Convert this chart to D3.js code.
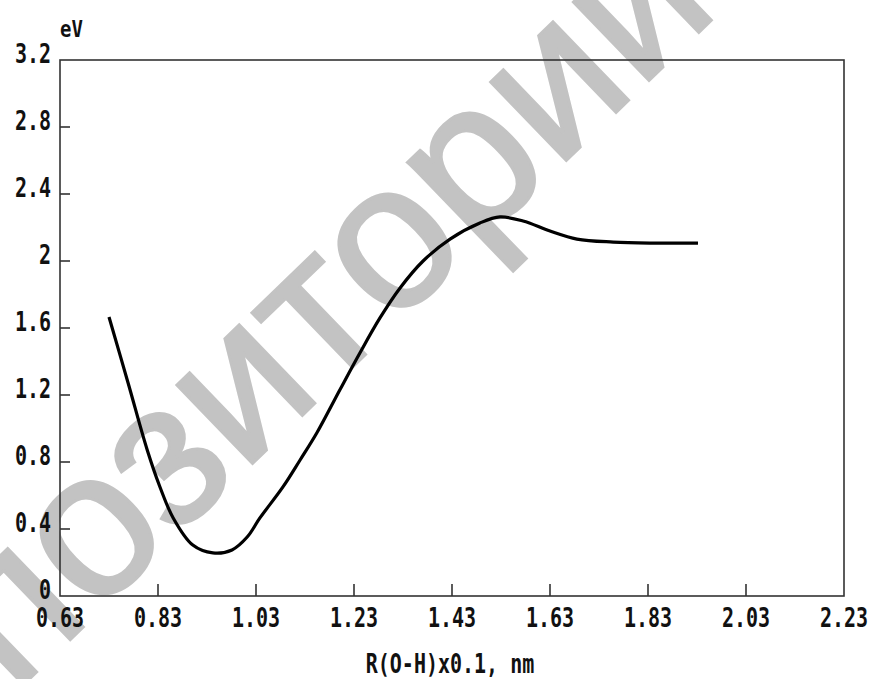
<!DOCTYPE html>
<html>
<head>
<meta charset="utf-8">
<script src="https://cdn.jsdelivr.net/npm/d3@7/dist/d3.min.js"></script>
<style>
  html, body { margin: 0; padding: 0; background: #fff; }
  svg { display: block; }
  .lbl { font-family: "DejaVu Sans Mono", "Liberation Mono", monospace; font-size: 20px; fill: #111; }
</style>
</head>
<body>
<svg id="chart" width="869" height="679"></svg>
<script>
// ---- data ----
const xTicks = [0.63, 0.83, 1.03, 1.23, 1.43, 1.63, 1.83, 2.03, 2.23];
const xTickLabels = ["0.63", "0.83", "1.03", "1.23", "1.43", "1.63", "1.83", "2.03", "2.23"];
const yTicks = [0, 0.4, 0.8, 1.2, 1.6, 2, 2.4, 2.8, 3.2];
const yTickLabels = ["0", "0.4", "0.8", "1.2", "1.6", "2", "2.4", "2.8", "3.2"];
const rOH = [0.730, 0.769, 0.808, 0.834, 0.861, 0.901, 0.942, 0.981, 1.012, 1.038, 1.085, 1.120, 1.154, 1.201, 1.242, 1.283, 1.324, 1.371, 1.426, 1.487, 1.528, 1.575, 1.630, 1.685, 1.759, 1.834, 1.932];
const energy = [1.666, 1.272, 0.872, 0.651, 0.466, 0.304, 0.257, 0.275, 0.352, 0.466, 0.651, 0.812, 0.973, 1.230, 1.451, 1.660, 1.839, 2.000, 2.131, 2.227, 2.263, 2.239, 2.179, 2.131, 2.113, 2.107, 2.107];
const xTitle = "R(O-H)x0.1, nm";
const yUnit = "eV";
const watermark = "репозиторий";

// ---- layout ----
const svg = d3.select("#chart");
const mLeft = 60, mRight = 844, mTop = 60, mBottom = 596;
const x = d3.scaleLinear().domain([0.63, 2.23]).range([mLeft, mRight]);
const y = d3.scaleLinear().domain([0, 3.2]).range([mBottom, mTop]);

// watermark (behind)
svg.append("text")
  .attr("transform", "translate(285,432) rotate(-44)")
  .attr("text-anchor", "middle")
  .style("font-family", "'Liberation Sans', Arial, sans-serif")
  .style("font-size", "206px")
  .style("fill", "#c3c3c3")
  .style("stroke", "#c3c3c3")
  .style("stroke-width", "3px")
  .text(watermark);

// frame
const axisColor = "#333";
svg.append("rect")
  .attr("x", mLeft).attr("y", mTop)
  .attr("width", mRight - mLeft).attr("height", mBottom - mTop)
  .attr("fill", "none").attr("stroke", axisColor).attr("stroke-width", 1.6);

// x ticks
svg.selectAll(".xt").data(xTicks.slice(1, -1)).enter().append("line")
  .attr("x1", d => x(d)).attr("x2", d => x(d))
  .attr("y1", mBottom).attr("y2", mBottom - 12)
  .attr("stroke", axisColor).attr("stroke-width", 1.6);
// y ticks
svg.selectAll(".yt").data(yTicks.slice(1, -1)).enter().append("line")
  .attr("x1", mLeft).attr("x2", mLeft + 10)
  .attr("y1", d => y(d)).attr("y2", d => y(d))
  .attr("stroke", axisColor).attr("stroke-width", 1.6);

// x labels
svg.selectAll(".xl").data(xTicks).enter().append("text")
  .attr("class", "lbl")
  .attr("text-anchor", "middle")
  .attr("transform", d => `translate(${x(d)},627) scale(1,1.37)`)
  .style("font-weight", "bold")
  .text((d, i) => xTickLabels[i]);

// y labels
svg.selectAll(".yl").data(yTicks).enter().append("text")
  .attr("class", "lbl")
  .attr("text-anchor", "end")
  .attr("transform", d => `translate(51,${y(d) + 3}) scale(1,1.37)`)
  .style("font-weight", "bold")
  .text((d, i) => yTickLabels[i]);

// unit label
svg.append("text").attr("class", "lbl")
  .attr("transform", "translate(60,37) scale(1,1.2)")
  .style("font-size", "19px")
  .style("font-weight", "bold")
  .text(yUnit);

// x title
svg.append("text").attr("class", "lbl")
  .attr("text-anchor", "middle")
  .attr("transform", "translate(450,673) scale(1,1.3)")
  .style("font-weight", "bold")
  .text(xTitle);

// curve
const pts = rOH.map((d, i) => [d, energy[i]]);
const line = d3.line().x(d => x(d[0])).y(d => y(d[1])).curve(d3.curveCatmullRom.alpha(0.5));
svg.append("path")
  .attr("d", line(pts))
  .attr("fill", "none")
  .attr("stroke", "#000")
  .attr("stroke-width", 3.2)
  .attr("stroke-linecap", "butt");
</script>
</body>
</html>
